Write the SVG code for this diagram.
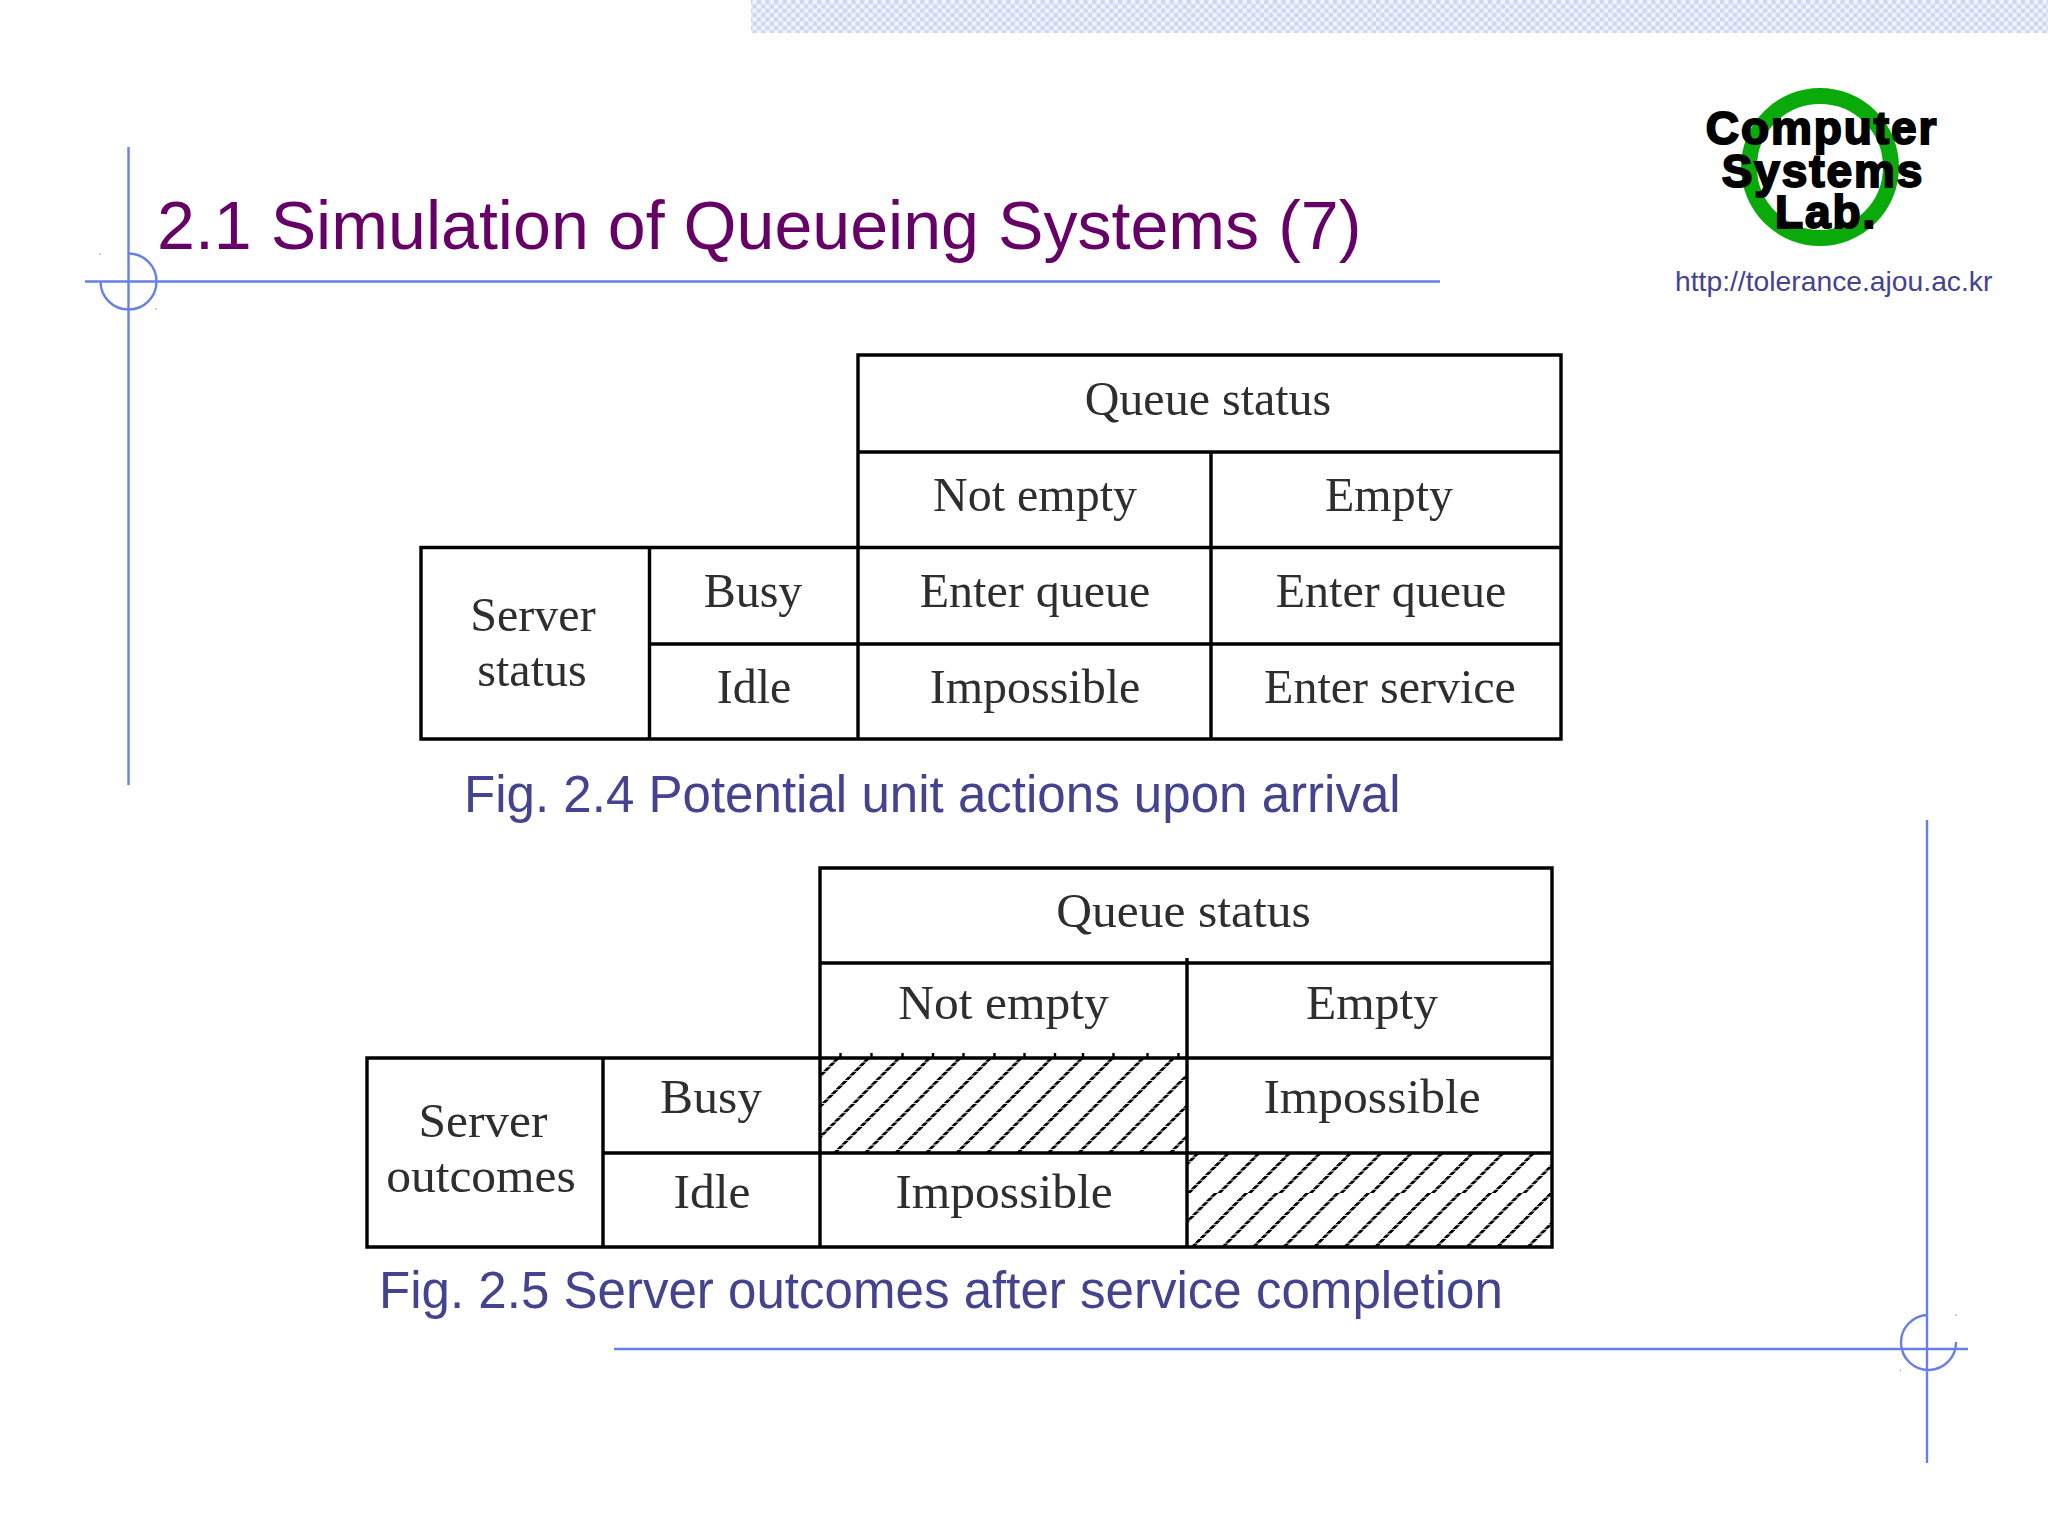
<svg xmlns="http://www.w3.org/2000/svg" width="2048" height="1536" viewBox="0 0 2048 1536">
<style>
.deco{fill:none;stroke:#6680e6;stroke-width:2.4}
.speck{fill:#b4b4c4}
.grid{fill:none;stroke:#000;stroke-width:3.4}
.cell{font-family:"Liberation Serif","Times New Roman",serif;fill:#2e2e2e;text-anchor:middle;font-size:48px;filter:url(#soft)}
.t2{font-size:49.5px}
.cap{font-family:"Liberation Sans",Arial,sans-serif;fill:#43438f;font-size:51.07px}
.logo{font-family:"Liberation Sans",Arial,sans-serif;font-weight:700;fill:#000;stroke:#000;stroke-width:2;text-anchor:middle;letter-spacing:1.9px}
</style>
<defs>
<filter id="soft" x="-5%" y="-10%" width="110%" height="120%"><feGaussianBlur stdDeviation="0.55"/></filter>
<pattern id="dots" patternUnits="userSpaceOnUse" width="8.6" height="8.6">
<rect width="8.6" height="8.6" fill="#f3f5fd"/>
<rect width="4.3" height="4.3" fill="#ced5f4"/>
<rect x="4.3" y="4.3" width="4.3" height="4.3" fill="#ced5f4"/>
</pattern>
<g id="hatch-line">
<rect width="30.5" height="23" fill="#fff"/>
<path d="M0 0h4v3.800h-4zM0 4.600h4v3.800h-4zM0 9.200h4v3.800h-4zM0 13.800h4v3.800h-4zM0 18.400h4v3.800h-4z" fill="#000"/>
</g>
<pattern id="hatchA" patternUnits="userSpaceOnUse" width="30.5" height="23" patternTransform="translate(836.200 1058) skewX(-45)"><use href="#hatch-line"/></pattern>
<pattern id="hatchB" patternUnits="userSpaceOnUse" width="30.5" height="23" patternTransform="translate(1196.200 1153) skewX(-45)"><use href="#hatch-line"/></pattern>
<pattern id="hatchC" patternUnits="userSpaceOnUse" width="30.5" height="23" patternTransform="translate(1213.900 1193) skewX(-45)"><use href="#hatch-line"/></pattern>
</defs>
<rect width="2048" height="1536" fill="#fff"/>
<rect id="band" x="751" y="0" width="1297" height="33" fill="url(#dots)"/>
<g id="frame-top-left">
<path class="deco" d="M128.500 147V785M85 281.500H1440M128.500 253.500A28 28 0 1 1 100.500 281.500"/>
<circle class="speck" cx="100" cy="254" r="0.9"/>
<circle class="speck" cx="156" cy="309" r="0.9"/>
</g>
<g id="frame-bottom-right">
<path class="deco" d="M1927 820V1463M614 1349H1968M1927 1315A27.500 27.500 0 1 0 1956 1342"/>
<circle class="speck" cx="1956" cy="1315" r="0.9"/>
<circle class="speck" cx="1900.500" cy="1370.500" r="0.9"/>
</g>
<text id="title" x="157" y="249" font-family="'Liberation Sans',Arial,sans-serif" font-size="68.150" fill="#660066">2.1 Simulation of Queueing Systems (7)</text>
<g id="logo">
<circle cx="1820" cy="167" r="71" fill="none" stroke="#0aaa0a" stroke-width="16"/>
<text class="logo" x="1822" y="144" font-size="46">Computer</text>
<text class="logo" x="1823" y="187" font-size="46">Systems</text>
<text class="logo" x="1826" y="228" font-size="46">Lab.</text>
</g>
<text id="url" x="1675" y="291" font-family="'Liberation Sans',Arial,sans-serif" font-size="28.270" fill="#43438f">http://tolerance.ajou.ac.kr</text>
<g id="table-2-4">
<path class="grid" d="M858 355H1561V739H421V547.500H858ZM858 452H1561M421 547.500H1561M649.500 644H1561M649.500 547.500V739M858 355V739M1211 452V739"/>
<text class="cell" x="1208" y="415">Queue status</text>
<text class="cell" x="1035" y="511">Not empty</text>
<text class="cell" x="1389" y="511">Empty</text>
<text class="cell" x="753" y="607">Busy</text>
<text class="cell" x="1035" y="607">Enter queue</text>
<text class="cell" x="1391" y="607">Enter queue</text>
<text class="cell" x="754" y="703">Idle</text>
<text class="cell" x="1035" y="703">Impossible</text>
<text class="cell" x="1390" y="703">Enter service</text>
<text class="cell" x="533" y="631">Server</text>
<text class="cell" x="532" y="686">status</text>
</g>
<text id="caption-2-4" class="cap" x="464" y="812">Fig. 2.4 Potential unit actions upon arrival</text>
<g id="table-2-5">
<rect x="820" y="1058" width="367" height="95" fill="url(#hatchA)"/>
<rect x="1187" y="1153" width="365" height="40" fill="url(#hatchB)"/>
<rect x="1187" y="1193" width="365" height="54" fill="url(#hatchC)"/>
<path class="grid" d="M820 868H1552V1247H367V1058H820ZM820 963H1552M367 1058H1552M603 1153H1552M603 1058V1247M820 868V1247M1187 958V1247"/>
<path d="M840.500 1053v5M871.500 1053v5M902.500 1053v5M933 1053v5M963.500 1053v5M994.500 1053v5M1024.500 1053v5M1055 1053v5M1083 1053v5M1113.500 1053v5M1147.500 1053v5M1178.500 1053v5" stroke="#000" stroke-width="2.400" fill="none"/>
<text class="cell t2" x="1183.500" y="927">Queue status</text>
<text class="cell t2" x="1003.500" y="1019">Not empty</text>
<text class="cell t2" x="1372" y="1019">Empty</text>
<text class="cell t2" x="711" y="1113">Busy</text>
<text class="cell t2" x="1372" y="1113">Impossible</text>
<text class="cell t2" x="712" y="1208">Idle</text>
<text class="cell t2" x="1004" y="1208">Impossible</text>
<text class="cell t2" x="483" y="1137">Server</text>
<text class="cell t2" x="481" y="1192">outcomes</text>
</g>
<text id="caption-2-5" class="cap" x="379" y="1308">Fig. 2.5 Server outcomes after service completion</text>
</svg>
